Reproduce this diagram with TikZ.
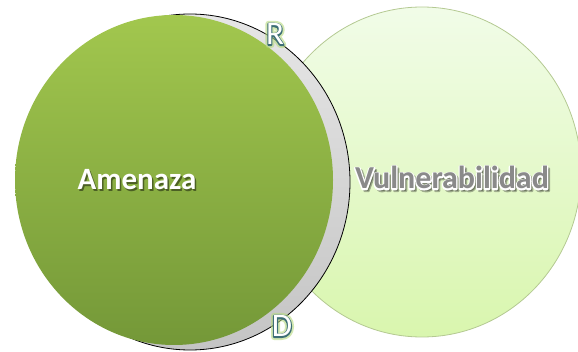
\documentclass[tikz,border=0pt]{standalone}
\usepackage{fontspec}
\setmainfont{Carlito}
\usetikzlibrary{shapes.geometric}
\definecolor{gtop}{HTML}{A2C74E}
\definecolor{gbot}{HTML}{749838}
\definecolor{vtop}{HTML}{F1FCE8}
\definecolor{vbot}{HTML}{D9F6AE}
\definecolor{vline}{HTML}{B4C992}
\definecolor{rtop}{HTML}{E6E6E6}
\definecolor{rbot}{HTML}{C4C4C4}
\definecolor{glow}{HTML}{B6DA7C}
\definecolor{outl}{HTML}{3E6E76}
\definecolor{vtext}{HTML}{8A8A8A}
% stroked text: #1 = pdf stroke colour (r g b), #2 = line width, #3 = text
\newcommand{\strokedtext}[3]{\special{pdf:literal #1 RG #2 w 1 j 2 Tr}#3\special{pdf:literal 0 Tr}}
\tikzset{
  disc/.style={ellipse, inner sep=0pt},
  bigtxt/.style={font=\fontsize{31}{31}\selectfont\bfseries, anchor=base, inner sep=0pt},
  vtxt/.style={font=\fontsize{32}{32}\selectfont\bfseries, anchor=base, inner sep=0pt},
  lettertxt/.style={font=\fontsize{33}{33}\selectfont, anchor=base, inner sep=0pt}
}
\begin{document}
\begin{tikzpicture}[x=1pt,y=-1pt]
\useasboundingbox (0,0) rectangle (578,352);
% right circle
\node[disc, minimum width=318pt, minimum height=330pt, top color=vtop, bottom color=vbot, draw=vline, line width=0.8pt] (vuln) at (422,172) {};
% grey rim
\node[disc, minimum width=320pt, minimum height=336pt, top color=rtop, bottom color=rbot, draw=black, line width=0.8pt] (rim) at (190,182) {};
% green circle
\node[disc, minimum width=318pt, minimum height=330pt, top color=gtop, bottom color=gbot] (amen) at (174,180) {};
% label positions
\coordinate (pa) at (137,190);
\coordinate (pv) at (452,189);
\coordinate (pr) at (275,45);
\coordinate (pd) at (282,337);
% Amenaza
\node[bigtxt, text=black, opacity=0.45] at ([shift={(1.5,1.5)}]pa) {Amenaza};
\node[bigtxt, text=white] (ta) at (pa) {Amenaza};
% Vulnerabilidad
\node[vtxt, text=black, opacity=0.3] at ([shift={(2,2)}]pv) {\strokedtext{0 0 0}{2.4}{Vulnerabilidad}};
\node[vtxt, text=white] at (pv) {\strokedtext{1 1 1}{2.6}{Vulnerabilidad}};
\node[vtxt, text=vtext] (tv) at (pv) {Vulnerabilidad};
% R and D
\foreach \p/\t/\n in {pr/R/tr, pd/D/td}{
  \node[lettertxt, text=glow, opacity=0.6] at (\p) {\strokedtext{0.71 0.85 0.49}{6}{\t}};
  \node[lettertxt, text=outl] at (\p) {\strokedtext{0.24 0.43 0.46}{2.2}{\t}};
  \node[lettertxt, text=white] (\n) at (\p) {\t};
}
\end{tikzpicture}
\end{document}
